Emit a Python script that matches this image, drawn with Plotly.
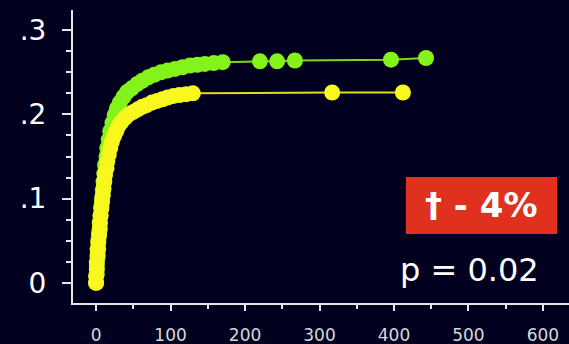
import plotly.graph_objects as go

# Green series (upper curve)
green_x = [0, 1, 1, 2, 3, 3, 4, 5, 6, 7, 8, 9, 10, 11, 12, 14, 15, 17, 19, 22, 25, 28, 32, 37, 42, 48,
           55, 62, 70, 78, 87, 96, 106, 116, 126, 136, 146, 158, 170, 220, 243, 267, 396, 443]
green_y = [0.000, 0.010, 0.020, 0.030, 0.040, 0.050, 0.060, 0.070, 0.080, 0.090, 0.100, 0.110, 0.120,
           0.130, 0.140, 0.150, 0.160, 0.170, 0.180, 0.190, 0.199, 0.207, 0.214, 0.221, 0.227, 0.231,
           0.236, 0.240, 0.244, 0.247, 0.250, 0.252, 0.254, 0.256, 0.258, 0.259, 0.260, 0.261, 0.262,
           0.263, 0.263, 0.264, 0.265, 0.267]

# Yellow series (lower curve)
yellow_x = [0, 0, 1, 1, 2, 2, 3, 4, 5, 5, 6, 7, 8, 9, 10, 11, 12, 14, 15, 17, 19, 21, 24, 27, 30, 34,
            39, 44, 50, 56, 62, 68, 75, 82, 89, 96, 104, 112, 121, 130, 317, 412]
yellow_y = [0.000, 0.008, 0.016, 0.024, 0.033, 0.040, 0.048, 0.056, 0.064, 0.072, 0.080, 0.088, 0.096,
            0.104, 0.112, 0.120, 0.128, 0.136, 0.144, 0.152, 0.160, 0.167, 0.174, 0.180, 0.186, 0.191,
            0.196, 0.200, 0.203, 0.206, 0.209, 0.211, 0.214, 0.216, 0.218, 0.220, 0.222, 0.223, 0.224,
            0.225, 0.226, 0.226]

y_tickvals = [0, 0.1, 0.2, 0.3]
y_ticktext = ["0", ".1", ".2", ".3"]
x_tickvals = [0, 100, 200, 300, 400, 500, 600]
x_ticktext = ["0", "100", "200", "300", "400", "500", "600"]

box_label = "† - 4%"
p_label = "p = 0.02"

BG = "#01011f"
GREEN = "#84f31a"
YELLOW = "#f8f81e"
FONT = "DejaVu Sans"

fig = go.Figure()
fig.add_trace(go.Scatter(x=green_x, y=green_y, mode="lines+markers",
                         line=dict(color="#7ad818", width=2),
                         marker=dict(color=GREEN, size=16, line=dict(width=0))))
fig.add_trace(go.Scatter(x=yellow_x, y=yellow_y, mode="lines+markers",
                         line=dict(color="#e0e018", width=2),
                         marker=dict(color=YELLOW, size=16, line=dict(width=0))))

fig.add_shape(type="rect", x0=416, x1=619, y0=0.058, y1=0.1257, xref="x", yref="y",
              fillcolor="#e0301e", line=dict(width=0), layer="above")
fig.add_annotation(x=517, y=0.092, xref="x", yref="y", text="<b>" + box_label + "</b>",
                   showarrow=False, font=dict(family=FONT, size=34, color="white"))
fig.add_annotation(x=502, y=0.0154, xref="x", yref="y", text=p_label,
                   showarrow=False, font=dict(family=FONT, size=32, color="white"))

fig.update_layout(
    width=569, height=344,
    margin=dict(l=73, r=0, t=10, b=41),
    paper_bgcolor=BG, plot_bgcolor=BG,
    showlegend=False,
    xaxis=dict(range=[-31, 635], showgrid=False, zeroline=False, automargin=False,
               showline=True, linecolor="#e6e6e6", linewidth=2,
               tickvals=x_tickvals, ticktext=x_ticktext,
               ticks="outside", ticklen=6, tickwidth=2, tickcolor="#e6e6e6",
               ticklabelstandoff=10,
               minor=dict(dtick=50, ticks="outside", ticklen=4, tickwidth=2, tickcolor="#e6e6e6"),
               tickfont=dict(family=FONT, size=17, color="#d8d8dc")),
    yaxis=dict(range=[-0.024, 0.324], showgrid=False, zeroline=False, automargin=False,
               showline=True, linecolor="#e6e6e6", linewidth=2,
               tickvals=y_tickvals, ticktext=y_ticktext,
               ticks="outside", ticklen=9, tickwidth=2, tickcolor="#e6e6e6",
               ticklabelstandoff=10,
               minor=dict(dtick=0.025, tick0=0, ticks="outside", ticklen=5, tickwidth=2, tickcolor="#e6e6e6"),
               tickfont=dict(family=FONT, size=28, color="white")),
)

# remove the page's default body margin so the figure fills the window exactly
page_style = ("document.body.style.margin='0';document.body.style.padding='0';"
              "document.body.style.overflow='hidden';"
              "document.body.style.background='" + BG + "';")

fig.write_html("out.html", post_script=page_style, config={"displayModeBar": False})
